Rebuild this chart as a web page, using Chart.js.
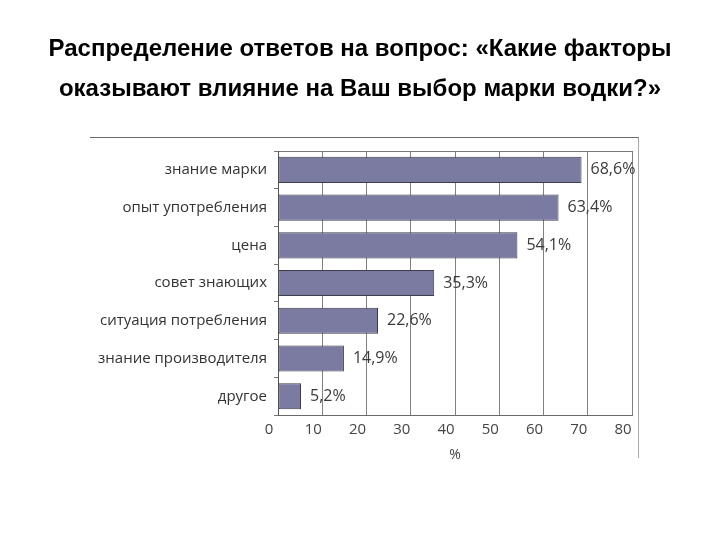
<!DOCTYPE html>
<html>
<head>
<meta charset="utf-8">
<script src="https://cdn.jsdelivr.net/npm/chart.js@4"></script>
<style>
html,body{margin:0;padding:0;background:#fff;}
#wrap{position:relative;width:720px;height:540px;}
#title{position:absolute;left:0;top:28px;width:720px;text-align:center;font-family:"Liberation Sans",Arial,sans-serif;font-weight:bold;font-size:24px;line-height:40px;color:#000;}
#frame{position:absolute;left:90px;top:137px;width:548px;height:320px;border-top:1px solid #6a6a6a;border-right:1px solid #a8a8a8;pointer-events:none;}
</style>
</head>
<body>
<div id="wrap">
<canvas id="c" width="720" height="540"></canvas>
<div id="title"></div>
<div id="frame"></div>
</div>
<script>
const titleLines = ['Распределение ответов на вопрос: «Какие факторы', 'оказывают влияние на Ваш выбор марки водки?»'];
const categories = ['знание марки', 'опыт употребления', 'цена', 'совет знающих', 'ситуация потребления', 'знание производителя', 'другое'];
const values = [68.6, 63.4, 54.1, 35.3, 22.6, 14.9, 5.2];
const valueLabels = ['68,6%', '63,4%', '54,1%', '35,3%', '22,6%', '14,9%', '5,2%'];
const xTicks = [0, 10, 20, 30, 40, 50, 60, 70, 80];
const xTitle = '%';

document.getElementById('title').innerHTML = titleLines.join('<br>');

const labelPlugin = {
  id: 'valueLabels',
  afterDatasetsDraw(chart) {
    const ctx = chart.ctx;
    const meta = chart.getDatasetMeta(0);
    ctx.save();
    ctx.font = '16px "Open Sans"';
    ctx.fillStyle = '#3a3a3a';
    ctx.textAlign = 'left';
    ctx.textBaseline = 'middle';
    meta.data.forEach((bar, i) => {
      ctx.fillText(valueLabels[i], bar.x + 9, bar.y);
    });
    ctx.restore();
  }
};

new Chart(document.getElementById('c'), {
  type: 'bar',
  data: {
    labels: categories,
    datasets: [{
      data: values,
      backgroundColor: '#7b7aa0',
      borderColor: '#3c3c4c',
      borderWidth: 1,
      borderSkipped: false,
      barPercentage: 0.69,
      categoryPercentage: 1.0
    }]
  },
  options: {
    indexAxis: 'y',
    responsive: false,
    animation: false,
    devicePixelRatio: 1,
    layout: { padding: { left: 0, right: 88, top: 151, bottom: 77 } },
    plugins: {
      legend: { display: false },
      tooltip: { enabled: false },
      title: { display: false }
    },
    scales: {
      x: {
        min: 0, max: 80,
        afterBuildTicks(scale) { scale.ticks = xTicks.map(v => ({ value: v })); },
        ticks: { color: '#444', font: { family: '"Open Sans"', size: 15 }, padding: 6, labelOffset: -9 },
        grid: { color: '#808080', lineWidth: 1, tickLength: 0 },
        border: { color: '#6a6a6a', width: 1 },
        title: { display: true, text: xTitle, color: '#444', font: { family: '"Open Sans"', size: 14 }, padding: { top: 1, bottom: 0 } }
      },
      x2: {
        position: 'top', min: 0, max: 80,
        ticks: { display: false },
        grid: { display: false, drawOnChartArea: false, tickLength: 0 },
        border: { display: true, color: '#777', width: 1 }
      },
      y: {
        afterFit(scale) { scale.width = 278; },
        ticks: { color: '#333', font: { family: '"Open Sans"', size: 15 }, padding: 7 },
        grid: { offset: true, drawOnChartArea: false, tickLength: 4, color: '#777' },
        border: { color: '#555', width: 1 }
      }
    }
  },
  plugins: [labelPlugin]
});
</script>
</body>
</html>
